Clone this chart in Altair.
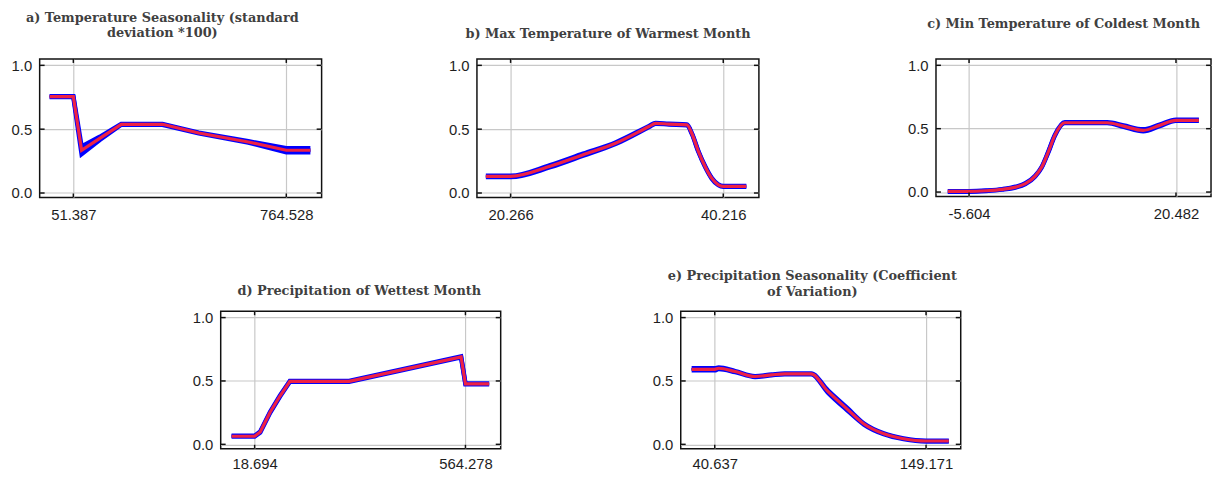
import altair as alt
import pandas as pd

# ---------------- data ----------------
a_x = [-28.2, 51.387, 79.0, 139.8, 211.7, 349.9, 471.5, 637.4, 764.528, 845.2]
a_mean = [0.755, 0.755, 0.335, 0.428, 0.538, 0.538, 0.47, 0.40, 0.335, 0.335]
a_sd = [0.003, 0.003, 0.03, 0.012, 0.003, 0.003, 0.003, 0.005, 0.016, 0.016]
a_ticks = [51.387, 764.528]
a_dom = [-61.4, 882.8]

b_x = [17.946, 20.266, 23.98, 27.07, 30.16, 33.26, 33.87, 35.11, 36.81, 37.28,
       37.90, 38.52, 39.13, 39.75, 40.216, 42.38]
b_mean = [0.13, 0.13, 0.21, 0.30, 0.392, 0.521, 0.546, 0.54, 0.534, 0.464,
          0.322, 0.206, 0.116, 0.064, 0.052, 0.052]
b_sd = [0.005, 0.005, 0.008, 0.008, 0.006, 0.004, 0.003, 0.003, 0.003, 0.003,
        0.003, 0.003, 0.003, 0.003, 0.003, 0.003]
b_ticks = [20.266, 40.216]
b_dom = [17.11, 43.56]

c_x = [-8.287, -5.604, -3.458, -1.394, 0.257, 1.495, 2.733, 3.559, 4.384, 5.21,
       6.448, 11.814, 13.878, 16.354, 18.418, 20.482, 23.37]
c_mean = [0.005, 0.005, 0.01, 0.021, 0.039, 0.066, 0.126, 0.197, 0.316, 0.447,
          0.547, 0.547, 0.52, 0.487, 0.526, 0.566, 0.566]
c_sd = [0.002, 0.002, 0.002, 0.002, 0.003, 0.003, 0.003, 0.003, 0.003, 0.003,
        0.003, 0.003, 0.005, 0.008, 0.006, 0.004, 0.004]
c_ticks = [-5.604, 20.482]
c_dom = [-9.773, 24.898]

d_x = [-40.98, 18.694, 33.19, 58.76, 84.34, 109.91, 263.36, 553.0, 564.278, 625.66]
d_mean = [0.064, 0.064, 0.098, 0.253, 0.381, 0.497, 0.497, 0.69, 0.477, 0.477]
d_sd = [0.003, 0.003, 0.004, 0.004, 0.004, 0.003, 0.003, 0.004, 0.004, 0.004]
d_ticks = [18.694, 564.278]
d_dom = [-69.11, 655.49]

e_x = [28.766, 40.637, 42.67, 51.15, 61.33, 69.80, 76.59, 90.16, 98.63, 108.81,
       117.29, 127.46, 137.64, 149.171, 160.87]
e_mean = [0.592, 0.592, 0.60, 0.574, 0.535, 0.548, 0.556, 0.556, 0.419, 0.276,
          0.16, 0.083, 0.044, 0.026, 0.026]
e_sd = [0.008, 0.008, 0.006, 0.004, 0.003, 0.003, 0.003, 0.003, 0.009, 0.009,
        0.004, 0.003, 0.003, 0.003, 0.003]
e_ticks = [40.637, 149.171]
e_dom = [23.17, 166.98]

y_ticks = [0.0, 0.5, 1.0]
y_dom = [-0.035, 1.05]

BLUE = "#0000ff"
RED = "#ee2244"
TICK = "#111111"


def panel(title, x, mean, sd, xdom, xticks, width, height, min_extent,
          t_offset, t_dx, lab_pad, interp):
    df = pd.DataFrame({
        "x": x,
        "m": mean,
        "lo": [m - s for m, s in zip(mean, sd)],
        "hi": [m + s for m, s in zip(mean, sd)],
    })
    xs = alt.Scale(domain=xdom, nice=False, zero=False)
    ys = alt.Scale(domain=y_dom, nice=False, zero=False)
    xaxis = alt.Axis(values=xticks, labelExpr="'' + datum.value", title=None,
                     grid=True, ticks=False, domain=False,
                     labelPadding=lab_pad, labelFlush=False)
    yaxis = alt.Axis(values=y_ticks, format=".1f", title=None, grid=True,
                     ticks=False, domain=False, labelPadding=8,
                     minExtent=min_extent, maxExtent=min_extent + 5)
    base = alt.Chart(df)
    area = base.mark_area(color=BLUE, opacity=1, interpolate=interp).encode(
        x=alt.X("x:Q", scale=xs, axis=xaxis),
        y=alt.Y("lo:Q", scale=ys, axis=yaxis),
        y2="hi:Q",
    )
    lo_line = base.mark_line(color=BLUE, strokeWidth=4.5, interpolate=interp).encode(
        x=alt.X("x:Q", scale=xs, axis=xaxis), y=alt.Y("lo:Q", scale=ys, axis=yaxis))
    hi_line = base.mark_line(color=BLUE, strokeWidth=4.5, interpolate=interp).encode(
        x=alt.X("x:Q", scale=xs, axis=xaxis), y=alt.Y("hi:Q", scale=ys, axis=yaxis))
    red = base.mark_line(color=RED, strokeWidth=3.2, interpolate=interp).encode(
        x=alt.X("x:Q", scale=xs, axis=xaxis), y=alt.Y("m:Q", scale=ys, axis=yaxis))

    xt = alt.Chart(pd.DataFrame({"t": xticks}))
    yt = alt.Chart(pd.DataFrame({"t": y_ticks}))
    tx_top = xt.mark_rule(color=TICK, strokeWidth=1.5).encode(
        x=alt.X("t:Q", scale=xs, axis=xaxis), y=alt.value(0), y2=alt.value(4))
    tx_bot = xt.mark_rule(color=TICK, strokeWidth=1.5).encode(
        x=alt.X("t:Q", scale=xs, axis=xaxis), y=alt.value(height), y2=alt.value(height - 4))
    ty_l = yt.mark_rule(color=TICK, strokeWidth=1.5).encode(
        y=alt.Y("t:Q", scale=ys, axis=yaxis), x=alt.value(0), x2=alt.value(5))
    ty_r = yt.mark_rule(color=TICK, strokeWidth=1.5).encode(
        y=alt.Y("t:Q", scale=ys, axis=yaxis), x=alt.value(width), x2=alt.value(width - 5))

    return alt.layer(area, lo_line, hi_line, red, tx_top, tx_bot, ty_l, ty_r).properties(
        width=width, height=height,
        title=alt.TitleParams(text=title, font="DejaVu Serif", fontSize=13,
                              fontWeight="bold", color="#404040", anchor="middle",
                              frame="group", offset=t_offset, dx=t_dx,
                              lineHeight=16),
    )


pa = panel(["a) Temperature Seasonality (standard", "deviation *100)"],
           a_x, a_mean, a_sd, a_dom, a_ticks, 285, 140, 31, 18, -18.5, 10, "linear")
pb = panel("b) Max Temperature of Warmest Month",
           b_x, b_mean, b_sd, b_dom, b_ticks, 285, 140, 154, 17.5, -10, 10, "monotone")
pc = panel("c) Min Temperature of Coldest Month",
           c_x, c_mean, c_sd, c_dom, c_ticks, 278, 139, 176, 27.5, -10, 10, "monotone")
pd_ = panel("d) Precipitation of Wettest Month",
            d_x, d_mean, d_sd, d_dom, d_ticks, 283, 139, 31, 13, -1.5, 8, "linear")
pe = panel(["e) Precipitation Seasonality (Coefficient", "of Variation)"],
           e_x, e_mean, e_sd, e_dom, e_ticks, 283, 139, 179, 12, -8.5, 8, "monotone")

# invisible spacer that shifts the bottom row to the right
spacer = alt.Chart(pd.DataFrame({"t": [0]})).mark_point(opacity=0).encode(
    x=alt.value(0), y=alt.value(0)
).properties(width=151, height=10,
             view=alt.ViewBackground(strokeOpacity=0, strokeWidth=0))

top = alt.hconcat(pa, pb, pc, spacing=0)
bottom = alt.hconcat(spacer, pd_, pe, spacing=0)

chart = alt.vconcat(top, bottom, spacing=46).properties(padding=0).configure_view(
    stroke="#111111", strokeWidth=1.5
).configure_axis(
    labelFont="Liberation Sans", labelFontSize=15, labelColor="#1e1e1e",
    gridColor="#c8c8c8", gridWidth=1.2
)

chart.save("out.html", embed_options={"renderer": "svg", "actions": False})
